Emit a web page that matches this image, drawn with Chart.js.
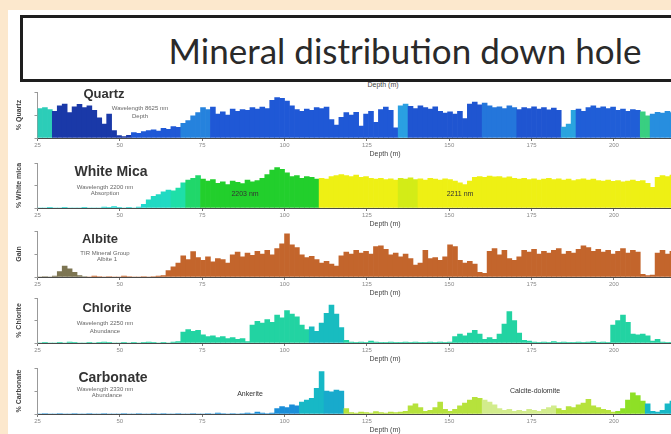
<!DOCTYPE html>
<html>
<head>
<meta charset="utf-8">
<script src="https://cdn.jsdelivr.net/npm/chart.js@4.4.1/dist/chart.umd.min.js"></script>
<style>
  html, body { margin: 0; padding: 0; width: 671px; height: 434px; overflow: hidden; background: #fce8cd; }
  #sheet { position: absolute; left: 8px; top: 10px; width: 720px; height: 440px; background: #ffffff; }
  .panel { position: absolute; left: 10px; }
  #titleBox { position: absolute; left: 20px; top: 15px; width: 770px; height: 61px; border: 3px solid #1e1e1e; background: #fff; z-index: 5; }
  #titleBox span { position: absolute; left: 0; right: 6px; top: 50%; transform: translateY(-48%); text-align: center; font: 35px Lato, "Open Sans", sans-serif; color: #2a2a2a; }
  .lbl { position: absolute; transform: translate(-50%, -50%); white-space: nowrap; font-family: "Liberation Sans", Arial, sans-serif; z-index: 3; }
  .name { font-weight: bold; font-size: 13px; color: #333; }
  .sub { font-size: 6px; color: #666; }
  .tag { font-size: 7px; color: #333; }
</style>
</head>
<body>
<div id="sheet"></div>
<div id="titleBox"><span>Mineral distribution down hole</span></div>
<div class="lbl sub" style="left:383px;top:84px;font-size:7px;color:#444;">Depth (m)</div>

<canvas id="quartzChart" class="panel"></canvas>
<canvas id="micaChart" class="panel"></canvas>
<canvas id="albiteChart" class="panel"></canvas>
<canvas id="chloriteChart" class="panel"></canvas>
<canvas id="carbonateChart" class="panel"></canvas>

<div class="lbl name" style="left:104px;top:93px;">Quartz</div>
<div class="lbl sub" style="left:140px;top:108px;">Wavelength 8625 nm</div>
<div class="lbl sub" style="left:140px;top:116px;">Depth</div>

<div class="lbl name" style="left:111px;top:171px;font-size:14px;">White Mica</div>
<div class="lbl sub" style="left:105px;top:187px;">Wavelength 2200 nm</div>
<div class="lbl sub" style="left:105px;top:193px;">Absorption</div>
<div class="lbl tag" style="left:245px;top:193px;">2203 nm</div>
<div class="lbl tag" style="left:460px;top:193px;">2211 nm</div>

<div class="lbl name" style="left:100px;top:238px;">Albite</div>
<div class="lbl sub" style="left:105px;top:253px;">TIR Mineral Group</div>
<div class="lbl sub" style="left:107px;top:259px;">Albite 1</div>

<div class="lbl name" style="left:107px;top:307px;">Chlorite</div>
<div class="lbl sub" style="left:105px;top:323px;">Wavelength 2250 nm</div>
<div class="lbl sub" style="left:105px;top:331px;">Abundance</div>

<div class="lbl name" style="left:113px;top:377px;font-size:14px;">Carbonate</div>
<div class="lbl sub" style="left:105px;top:389px;">Wavelength 2330 nm</div>
<div class="lbl sub" style="left:107px;top:395px;">Abundance</div>
<div class="lbl tag" style="left:250px;top:393px;">Ankerite</div>
<div class="lbl tag" style="left:535px;top:390px;">Calcite-dolomite</div>

<script>
// Down-hole sampling: first sample interval starts at 25 m, 1.5 m composites
const START_DEPTH = 25;
const SAMPLE_STEP = 1.5;
const DEPTH_TICKS = [25, 50, 75, 100, 125, 150, 175, 200, 225];

// Mineral abundance per composite (%)
const quartz = [64,66,62,58,70,74,55,68,73,66, 70,60,44,30,52,16,5,3,6,12,
  10,14,16,18,15,21,19,25,23,32, 38,48,55,66,62,67,52,57,50,63,
  58,62,60,66,63,67,64,82,88,86, 80,70,62,58,63,60,66,64,67,40,
  28,45,55,50,56,26,52,58,34,62, 67,60,22,70,74,69,64,70,66,63,
  68,58,54,57,52,58,42,74,78,72, 76,70,66,68,64,70,66,62,66,64,
  68,63,66,61,65,60,24,30,60,63, 58,66,70,65,68,64,67,60,63,58,
  62,60,57,48,52,56,54,58,55];

const whiteMica = [0,0,1,0,0,1,0,0,0,1, 0,0,0,2,1,3,1,0,1,0,
  2,8,18,26,30,36,40,38,44,56, 62,66,72,64,60,63,55,58,52,60,
  57,54,62,58,61,66,74,84,90,86, 78,70,72,66,70,68,64,66,64,70,
  72,74,72,70,73,68,70,66,64,66, 63,65,62,66,64,67,63,65,62,66,
  64,62,65,63,60,56,52,60,68,70, 68,71,69,70,67,69,66,64,66,63,
  65,62,64,66,63,65,62,64,61,63, 65,62,64,61,60,62,59,61,58,60,
  62,59,61,55,46,68,72,70,73];

const albite = [0,1,0,2,12,24,18,10,3,1, 0,2,1,0,1,0,0,2,1,0,
  0,1,0,1,2,3,14,22,30,46, 38,55,42,36,44,33,40,38,30,48,
  54,44,52,47,56,50,58,48,62,72, 94,70,64,48,42,45,38,30,34,28,
  24,46,54,50,58,52,56,50,66,68, 60,48,52,44,50,40,26,30,58,40,
  42,36,44,70,66,36,30,34,28,10, 8,56,62,48,58,40,36,44,58,54,
  60,50,56,52,58,62,50,56,52,60, 68,64,56,60,54,58,50,56,62,52,
  58,54,6,3,4,52,58,50,56];

const chlorite = [0,1,0,0,1,0,2,1,0,0, 1,0,1,2,1,0,0,1,0,1,
  0,1,2,1,0,1,0,2,3,24, 30,26,28,18,14,16,12,14,10,12,
  8,10,3,40,48,44,52,46,62,56, 72,64,58,40,30,36,26,44,66,84,
  64,34,6,2,1,2,1,4,2,1, 1,2,1,1,2,1,2,1,1,2,
  1,2,1,2,14,20,16,22,28,20, 8,12,8,20,42,70,50,22,6,4,
  2,1,2,1,3,1,2,1,1,2, 1,2,3,1,2,1,40,50,62,46,
  20,18,20,16,4,8,2,1,1];

const carbonate = [0,1,0,0,1,0,0,1,0,0, 1,0,0,1,0,0,0,1,0,0,
  1,0,0,1,0,1,0,0,1,0, 0,1,0,0,1,0,2,1,0,1,
  0,1,2,1,4,2,1,2,12,16, 14,20,18,26,30,34,56,92,50,48,
  52,50,12,3,2,4,3,2,5,3, 2,4,3,4,6,18,22,14,6,8,
  14,26,10,6,10,18,24,30,36,34, 30,26,20,12,8,10,6,8,6,10,
  8,6,10,14,18,12,8,16,14,20, 24,32,18,14,10,8,4,6,12,30,
  46,40,28,22,6,4,8,22,28];

// Absorption-feature wavelength (nm) by depth interval: [from m, to m, wavelength]
const quartzWavelength = [[25,28.8,8637],[28.8,53,8603],[53,68,8613],[68,78,8620],[78,134,8613],
  [134,138,8625],[138,160,8612],[160,170,8618],[170,183.5,8612],[183.5,188,8626],
  [188,207.8,8614],[207.8,210.8,8642],[210.8,230,8622]];
const micaWavelength = [[25,58,2196],[58,66,2197],[66,70,2199],[70,75,2201],[75,111,2203],
  [111,135,2211],[135,140,2210],[140,230,2211]];
const albiteGroup = [[25,40,1],[40,230,2]];
const chloriteWavelength = [[25,108,2249],[108,118,2252],[118,230,2249]];
const carbonateWavelength = [[25,97,2328],[97,104,2328],[104,112,2331],[112,118,2330],
  [118,160,2337],[160,183,2339],[183,200,2337],[200,210,2335],[210,230,2331]];

// Colour ramps for each measured feature
const RAMPS = {
  quartz: [[8600,'#19309a'],[8613,'#1f58d6'],[8625,'#2aa0e2'],[8637,'#2ccdb8'],[8645,'#40d060']],
  mica: [[2196,'#22d8d0'],[2199,'#1edfa8'],[2203,'#22cf2c'],[2208,'#9ee41e'],[2211,'#eef014']],
  albite: [[1,'#7d7552'],[2,'#c3652c']],
  chlorite: [[2249,'#22d3a2'],[2252,'#18bcc0']],
  carbonate: [[2328,'#1a8ed8'],[2331,'#17b8c6'],[2335,'#8ee026'],[2337,'#b6e23c'],[2339,'#d2ec8c']]
};

function hexToRgb(h) { return [1,3,5].map(k => parseInt(h.slice(k, k + 2), 16)); }
function rampColour(stops, v) {
  if (v <= stops[0][0]) return stops[0][1];
  for (let k = 1; k < stops.length; k++) {
    if (v <= stops[k][0]) {
      const [a, ca] = stops[k - 1], [b, cb] = stops[k];
      const t = (v - a) / (b - a);
      const A = hexToRgb(ca), B = hexToRgb(cb);
      return 'rgb(' + A.map((c, j) => Math.round(c + (B[j] - c) * t)).join(',') + ')';
    }
  }
  return stops[stops.length - 1][1];
}
function featureAt(zones, d) {
  for (const [a, b, w] of zones) if (d >= a && d < b) return w;
  return zones[zones.length - 1][2];
}

const depthOf = i => START_DEPTH + SAMPLE_STEP * (i + 0.5);

function makePanel(id, top, baseline, values, zones, ramp, yTitle) {
  const cv = document.getElementById(id);
  const axisH = 22;
  cv.width = 730; cv.height = (baseline - top) + axisH;
  cv.style.top = top + 'px';
  const pts = values.map((v, i) => ({ x: depthOf(i), y: v }));
  const colours = values.map((v, i) => rampColour(ramp, featureAt(zones, depthOf(i))));
  new Chart(cv, {
    type: 'bar',
    data: { datasets: [{ data: pts, backgroundColor: colours, borderWidth: 0,
      barPercentage: 1, categoryPercentage: 1, grouped: false }] },
    options: {
      responsive: false, animation: false,
      layout: { padding: { left: 0, right: 7.5, top: 0, bottom: 0 } },
      plugins: { legend: { display: false }, tooltip: { enabled: false } },
      scales: {
        x: {
          type: 'linear', min: 25, max: 236, offset: false,
          afterFit: s => { s.height = axisH; },
          afterBuildTicks: s => { s.ticks = DEPTH_TICKS.map(v => ({ value: v })); },
          ticks: { font: { size: 6, family: 'Liberation Sans' }, color: '#8a8a8a', padding: 1, maxRotation: 0, autoSkip: false },
          grid: { display: true, drawOnChartArea: false, drawTicks: true, tickLength: 3, color: '#777', offset: false },
          border: { display: true, color: '#4a4a4a', width: 1 },
          title: { display: true, text: 'Depth (m)', font: { size: 7, family: 'Liberation Sans' }, color: '#444', padding: { top: 0, bottom: 2 } }
        },
        y: {
          min: 0, max: 100,
          afterFit: s => { s.width = 27.5; },
          ticks: { display: false, stepSize: 50 },
          grid: { display: true, drawOnChartArea: false, drawTicks: true, tickLength: 3, color: '#999' },
          border: { display: true, color: '#999', width: 1 },
          title: { display: true, text: yTitle, font: { size: 7, weight: 'bold', family: 'Liberation Sans' }, color: '#444', padding: { top: 5, bottom: 0 } }
        }
      }
    }
  });
}

makePanel('quartzChart', 92, 138, quartz, quartzWavelength, RAMPS.quartz, '% Quartz');
makePanel('micaChart', 163, 208, whiteMica, micaWavelength, RAMPS.mica, '% White mica');
makePanel('albiteChart', 231, 277, albite, albiteGroup, RAMPS.albite, 'Gain');
makePanel('chloriteChart', 298, 343, chlorite, chloriteWavelength, RAMPS.chlorite, '% Chlorite');
makePanel('carbonateChart', 368, 414, carbonate, carbonateWavelength, RAMPS.carbonate, '% Carbonate');
</script>
</body>
</html>
